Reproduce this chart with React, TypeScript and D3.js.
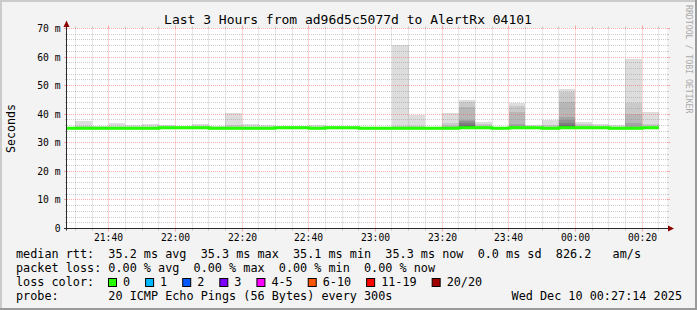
import React, { useEffect } from "react";
import * as d3 from "d3";

const W = 697;
const H = 310;

const barTimes = [
  "21:25", "21:30", "21:35", "21:40", "21:45", "21:50", "21:55", "22:00", "22:05", "22:10",
  "22:15", "22:20", "22:25", "22:30", "22:35", "22:40", "22:45", "22:50", "22:55", "23:00",
  "23:05", "23:10", "23:15", "23:20", "23:25", "23:30", "23:35", "23:40", "23:45", "23:50",
  "23:55", "00:00", "00:05", "00:10", "00:15", "00:20",
];

const medianRtt = [
  35.1, 35.1, 35.1, 35.1, 35.1, 35.1, 35.3, 35.3, 35.3, 35.1,
  35.1, 35.1, 35.1, 35.3, 35.3, 35.1, 35.3, 35.3, 35.1, 35.1,
  35.1, 35.1, 35.1, 35.1, 35.3, 35.3, 35.1, 35.3, 35.3, 35.1,
  35.3, 35.3, 35.3, 35.1, 35.1, 35.3,
];

const minRtt = [
  34.9, 34.9, 34.9, 34.9, 34.9, 34.9, 34.9, 34.9, 34.9, 34.9,
  34.9, 34.9, 34.9, 34.9, 34.9, 34.9, 34.9, 34.9, 34.9, 34.9,
  34.9, 34.9, 34.9, 34.9, 34.9, 34.9, 34.9, 34.9, 34.9, 34.9,
  34.9, 34.9, 34.9, 34.9, 34.9, 34.9,
];

// smoke band tops, outermost (max ping) first
const smokeTops: number[][] = [
  [35.6], [37.8, 36.0], [36.0], [37.1], [36.3], [36.7], [36.1], [35.9], [36.6], [35.9],
  [40.5, 36.2], [36.6], [36.2], [35.8], [35.9], [36.1], [35.8], [35.6], [35.5], [35.5],
  [64.3, 36.0], [39.8, 36.0], [35.6], [40.4, 36.8, 36.0],
  [45.0, 44.2, 42.4, 38.0, 37.5, 36.8, 36.2], [37.4, 36.6], [35.5],
  [43.8, 42.9, 40.9, 36.6], [36.2], [38.0, 36.2],
  [48.9, 47.9, 44.4, 39.2, 38.0, 37.0, 36.3], [37.4, 36.6], [36.5], [36.2],
  [59.5, 43.8, 40.1, 37.0], [40.8, 36.7],
];

const yTickValues = [0, 10, 20, 30, 40, 50, 60, 70];
const lossLabels = ["0", "1", "2", "3", "4-5", "6-10", "11-19", "20/20"];
const lossColors = ["#26ff00", "#00b8ff", "#0059ff", "#7e00ff", "#ff00ff", "#ff5500", "#ff0000", "#a10000"];

const titleText = "Last 3 Hours from ad96d5c5077d to AlertRx 04101";
const legendRtt = "median rtt:  35.2 ms avg  35.3 ms max  35.1 ms min  35.3 ms now  0.0 ms sd  826.2   am/s";
const legendLoss = "packet loss: 0.00 % avg  0.00 % max  0.00 % min  0.00 % now";
const legendColorTitle = "loss color:";
const legendProbe = "probe:       20 ICMP Echo Pings (56 Bytes) every 300s";
const stampText = "Wed Dec 10 00:27:14 2025";
const watermark = "RRDTOOL / TOBI OETIKER";

const startTime = new Date(Date.UTC(2025, 11, 9, 21, 27, 30));
const endTime = new Date(Date.UTC(2025, 11, 10, 0, 27, 30));

function parseBar(t: string): Date {
  const [h, m] = t.split(":").map(Number);
  const day = h >= 12 ? 9 : 10;
  return new Date(Date.UTC(2025, 11, day, h, m, 0));
}

const MONO = "'DejaVu Sans Mono', monospace";

export default function App() {
  useEffect(() => {
    document.body.style.margin = "0";
  }, []);

  const x0 = 67, x1 = 667;
  const x = d3.scaleUtc().domain([startTime, endTime]).range([x0, x1]);
  const y = d3.scaleLinear().domain([0, 70]).range([228.5, 28.5]);
  const yTop = 28.5, yBot = 228.5;

  const minorX = d3.utcMinute.every(5)!.range(startTime, endTime);
  const majorX = d3.utcMinute.every(20)!.range(startTime, endTime);
  const majorSet = new Set(majorX.map((d) => +d));
  const minorY = d3.range(0, 71, 2).filter((v) => v % 10 !== 0);
  const fmt = d3.utcFormat("%H:%M");

  const bars = barTimes.map((t, i) => {
    const s = parseBar(t);
    const e = d3.utcMinute.offset(s, 5);
    return { s, e, med: medianRtt[i], low: minRtt[i], tops: smokeTops[i] };
  });

  const greyOf = (j: number) => {
    const g = Math.round((190 / 10) * (10 - (j + 1))) + 50;
    return `rgb(${g},${g},${g})`;
  };

  const medPts: [number, number][] = [];
  bars.forEach((b) => {
    medPts.push([Math.round(x(b.s)), y(b.med)]);
    medPts.push([Math.round(x(b.e)), y(b.med)]);
  });
  const medLine = d3.line<[number, number]>().x((d) => d[0]).y((d) => d[1]).curve(d3.curveLinear)(medPts) || "";

  const minorGrid = "rgba(130,130,130,0.4)";
  const majorGrid = "rgba(255,70,70,0.45)";

  const legendFs = 11.8;
  const cw = legendFs * 0.602;
  const boxX: number[] = [];
  let bx = 108;
  lossLabels.forEach((l) => {
    boxX.push(bx);
    bx += 30 + cw * l.length;
  });

  return (
    <svg width={W} height={H} style={{ position: "absolute", left: 0, top: 0, display: "block" }} fontFamily={MONO}>
      <defs>
        <clipPath id="plotclip">
          <rect x={x0} y={yTop - 0.5} width={x1 - x0} height={yBot - yTop + 0.5} />
        </clipPath>
      </defs>
      <rect x={0} y={0} width={W} height={H} fill="#f3f3f3" />
      <rect x={0} y={0} width={W} height={2} fill="#cbcbcb" />
      <rect x={0} y={0} width={2} height={H} fill="#cbcbcb" />
      <rect x={0} y={H - 2} width={W} height={2} fill="#9a9a9a" />
      <rect x={W - 2} y={0} width={2} height={H} fill="#9a9a9a" />

      <rect x={x0} y={yTop - 0.5} width={x1 - x0} height={yBot - yTop + 0.5} fill="#ffffff" />

      <g clipPath="url(#plotclip)">
        {bars.map((b, i) => (
          <g key={i}>
            {b.tops.map((tp, j) => (
              <rect
                key={j}
                x={Math.round(x(b.s))}
                width={Math.round(x(b.e)) - Math.round(x(b.s))}
                y={y(tp)}
                height={y(b.low) - y(tp)}
                fill={greyOf(j)}
                shapeRendering="crispEdges"
              />
            ))}
          </g>
        ))}
      </g>

      {/* minor grid */}
      {minorY.map((v) => {
        const yy = Math.floor(y(v)) + 0.5;
        return (
          <g key={"my" + v}>
            <line x1={x0 - 2} x2={x0} y1={yy} y2={yy} stroke={minorGrid} />
            <line x1={x1} x2={x1 + 2} y1={yy} y2={yy} stroke={minorGrid} />
            <line x1={x0} x2={x1} y1={yy} y2={yy} stroke={minorGrid} strokeDasharray="1,1" />
          </g>
        );
      })}
      {minorX.filter((d) => !majorSet.has(+d)).map((d) => {
        const xx = Math.floor(x(d)) + 0.5;
        return (
          <g key={"mx" + +d}>
            <line x1={xx} x2={xx} y1={yTop - 2} y2={yTop} stroke={minorGrid} />
            <line x1={xx} x2={xx} y1={yBot} y2={yBot + 2} stroke={minorGrid} />
            <line x1={xx} x2={xx} y1={yTop} y2={yBot} stroke={minorGrid} strokeDasharray="1,1" />
          </g>
        );
      })}
      {/* major grid */}
      {yTickValues.filter((v) => v > 0).map((v) => {
        const yy = Math.floor(y(v)) + 0.5;
        return (
          <g key={"My" + v}>
            <line x1={x0 - 3} x2={x0} y1={yy} y2={yy} stroke={majorGrid} />
            <line x1={x1} x2={x1 + 3} y1={yy} y2={yy} stroke={majorGrid} />
            <line x1={x0} x2={x1} y1={yy} y2={yy} stroke={majorGrid} strokeDasharray="1,1" />
          </g>
        );
      })}
      {majorX.map((d) => {
        const xx = Math.floor(x(d)) + 0.5;
        return (
          <g key={"Mx" + +d}>
            <line x1={xx} x2={xx} y1={yTop - 3} y2={yTop} stroke={majorGrid} />
            <line x1={xx} x2={xx} y1={yBot} y2={yBot + 3} stroke={majorGrid} />
            <line x1={xx} x2={xx} y1={yTop} y2={yBot} stroke={majorGrid} strokeDasharray="1,1" />
          </g>
        );
      })}

      {/* median line */}
      <g clipPath="url(#plotclip)">
        <path d={medLine} fill="none" stroke="#22ff00" strokeWidth={3} />
      </g>

      {/* axes */}
      <line x1={66.5} x2={66.5} y1={yBot + 2} y2={24} stroke="#2a2a2a" />
      <line x1={64} x2={670} y1={228.5} y2={228.5} stroke="#2a2a2a" />
      <path d="M63.5,27 L66.5,20.5 L69.5,27 Z" fill="#8a0000" />
      <path d="M668,225.5 L674,228.5 L668,231.5 Z" fill="#8a0000" />

      {/* y labels */}
      {yTickValues.map((v) => (
        <text key={"yl" + v} x={60.5} y={Math.floor(y(v)) + 0.5 + 3.5} fontSize={9.7} textAnchor="end" fill="#000">
          {v === 0 ? "0" : `${v} m`}
        </text>
      ))}
      {/* x labels */}
      {majorX.map((d) => (
        <text key={"xl" + +d} x={Math.floor(x(d)) + 0.5} y={241} fontSize={9.7} textAnchor="middle" fill="#000">
          {fmt(d)}
        </text>
      ))}

      {/* titles */}
      <text x={348} y={24} fontSize={13} textAnchor="middle" fill="#000">{titleText}</text>
      <text transform="translate(15,128.5) rotate(-90)" fontSize={11.6} textAnchor="middle" fill="#000">Seconds</text>
      <text transform="translate(685.5,5) rotate(90)" fontSize={8.2} fill="#aaaaaa">{watermark}</text>

      {/* legend */}
      <g fontSize={legendFs} fill="#000" style={{ whiteSpace: "pre" }}>
        <text x={16} y={258} xmlSpace="preserve">{legendRtt}</text>
        <text x={16} y={272} xmlSpace="preserve">{legendLoss}</text>
        <text x={16} y={286} xmlSpace="preserve">{legendColorTitle}</text>
        {lossLabels.map((l, i) => (
          <g key={"lc" + i}>
            <rect x={boxX[i] + 0.5} y={278.5} width={8} height={8} fill={lossColors[i]} stroke="#000" />
            <text x={boxX[i] + 15} y={286}>{l}</text>
          </g>
        ))}
        <text x={16} y={300} xmlSpace="preserve">{legendProbe}</text>
        <text x={682} y={300} textAnchor="end">{stampText}</text>
      </g>
    </svg>
  );
}
